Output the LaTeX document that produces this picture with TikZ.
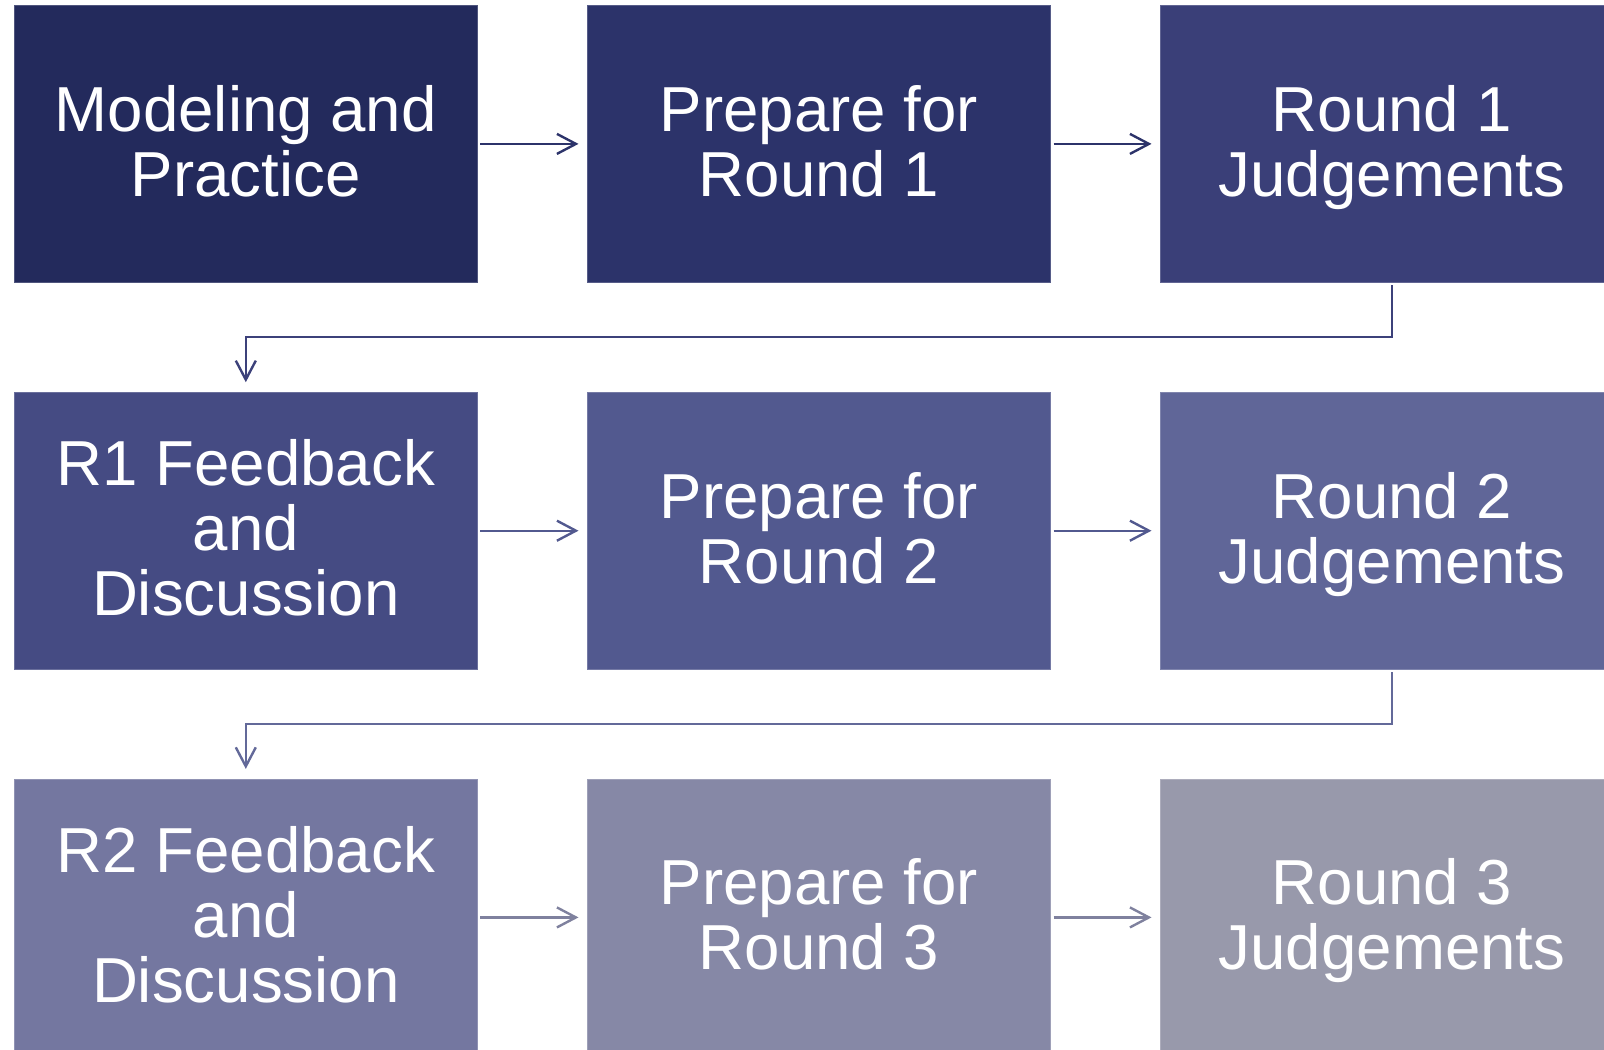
\documentclass[tikz,border=0pt]{standalone}
\usepackage{fontspec}
\setmainfont{Liberation Sans}
\usepackage{tikz}
\usetikzlibrary{arrows.meta,positioning}
% box fills, dark to light
\definecolor{StageA}{RGB}{35, 42, 92}
\definecolor{StageB}{RGB}{44, 51, 106}
\definecolor{StageC}{RGB}{58, 63, 120}
\definecolor{StageD}{RGB}{69, 75, 131}
\definecolor{StageE}{RGB}{82, 89, 143}
\definecolor{StageF}{RGB}{96, 102, 152}
\definecolor{StageG}{RGB}{116, 119, 160}
\definecolor{StageH}{RGB}{134, 136, 166}
\definecolor{StageI}{RGB}{152, 153, 171}

\begin{document}
\begin{tikzpicture}[x=0.5pt, y=-0.5pt,
    stage/.style={rectangle, minimum width=231.5pt, minimum height=138.5pt,
      inner sep=0pt, outer sep=0pt, text=white, align=center, text depth=3pt,
      font=\fontsize{31.8}{32.5}\selectfont, line width=0.4pt},
    flow/.style={line width=1.2pt, -{Straight Barb[length=9.5pt, width=10pt, line width=1.2pt]}}]
    \useasboundingbox (0,0) rectangle (1604,1049);
    \clip (0,0) rectangle (1604,1049);

    % Row 1
    \node[stage, fill=StageA, draw=StageA!80!white] (model) at (245.8,143.9) {Modeling and\\Practice};
    \node[stage, fill=StageB, draw=StageB!80!white] (prepA) at (819,143.9) {Prepare for\\Round 1};
    \node[stage, fill=StageC, draw=StageC!80!white] (judgeA) at (1392,143.9) {Round 1\\Judgements};

    % Row 2
    \node[stage, fill=StageD, draw=StageD!80!white] (feedA) at (245.8,530.7) {R1 Feedback\\and\\Discussion};
    \node[stage, fill=StageE, draw=StageE!80!white] (prepB) at (819,530.7) {Prepare for\\Round 2};
    \node[stage, fill=StageF, draw=StageF!80!white] (judgeB) at (1392,530.7) {Round 2\\Judgements};

    % Row 3
    \node[stage, fill=StageG, draw=StageG!80!white] (feedB) at (245.8,917.4) {R2 Feedback\\and\\Discussion};
    \node[stage, fill=StageH, draw=StageH!80!white] (prepC) at (819,917.4) {Prepare for\\Round 3};
    \node[stage, fill=StageI, draw=StageI!80!white] (judgeC) at (1392,917.4) {Round 3\\Judgements};

    % Arrows along each row
    \draw[flow, StageB] ([xshift=1.5pt]model.east) -- ([xshift=-4.5pt]prepA.west);
    \draw[flow, StageB] ([xshift=1.5pt]prepA.east) -- ([xshift=-4.5pt]judgeA.west);
    \draw[flow, StageE] ([xshift=1.5pt]feedA.east) -- ([xshift=-4.5pt]prepB.west);
    \draw[flow, StageE] ([xshift=1.5pt]prepB.east) -- ([xshift=-4.5pt]judgeB.west);
    \draw[flow, StageH!95!black] ([xshift=1.5pt]feedB.east) -- ([xshift=-4.5pt]prepC.west);
    \draw[flow, StageH!95!black] ([xshift=1.5pt]prepC.east) -- ([xshift=-4.5pt]judgeC.west);

    % Bends down to the next row
    \draw[flow, StageC!85!StageD] ([yshift=-1.5pt]judgeA.south) |- (245.8,337) -- ([yshift=5pt]feedA.north);
    \draw[flow, StageF!85!StageG] ([yshift=-1.5pt]judgeB.south) |- (245.8,723.7) -- ([yshift=5pt]feedB.north);
\end{tikzpicture}
\end{document}
